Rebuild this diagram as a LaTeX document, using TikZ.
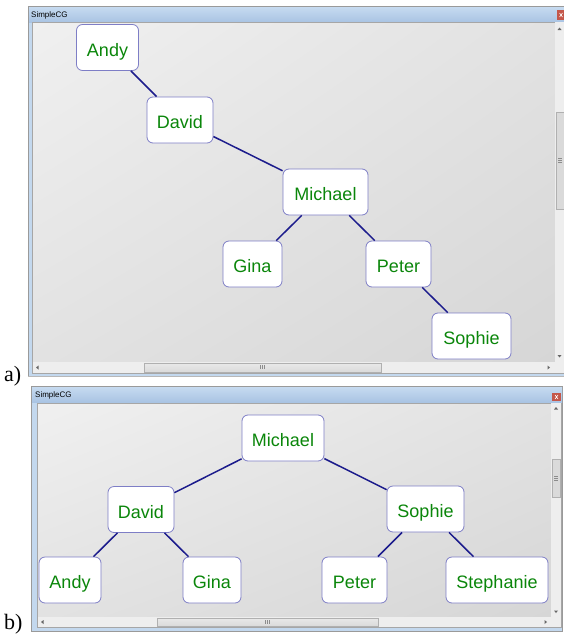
\documentclass[tikz,border=0pt]{standalone}
\usepackage{fontspec}
\usetikzlibrary{shadings}
\setmainfont{Liberation Serif}
\newfontfamily\uifont{Liberation Sans}
\definecolor{frameblue}{HTML}{C3D8EE}
\definecolor{framegray}{HTML}{9A9A9A}
\definecolor{titletop}{HTML}{C6DAF0}
\definecolor{titlebot}{HTML}{A9C4E3}
\definecolor{closered}{HTML}{C4574A}
\definecolor{bgA}{HTML}{F0F0F0}
\definecolor{bgB}{HTML}{E2E2E2}
\definecolor{bgC}{HTML}{D6D6D6}
\definecolor{sbbg}{HTML}{EEEEEE}
\definecolor{thumbc}{HTML}{DADADA}
\definecolor{thumbb}{HTML}{B0B0B0}
\definecolor{boxc}{HTML}{7E7EC6}
\definecolor{edgec}{HTML}{1C1C8C}
\definecolor{namec}{HTML}{0A860A}
\tikzset{
  person/.style={draw=boxc, fill=white, rounded corners=6pt, line width=0.8pt,
    minimum height=46pt, inner sep=0pt, text height=17pt, text depth=0pt, text=namec,
    font=\uifont\fontsize{18}{20}\selectfont},
  edge/.style={draw=edgec, line width=1.5pt},
  wtitle/.style={anchor=west, inner sep=0pt, font=\uifont\fontsize{8}{9}\selectfont},
  arrowtip/.style={fill=black!60},
  panel/.style={anchor=west, inner sep=0pt, font=\fontsize{22}{24}\selectfont}
}
\begin{document}
\begin{tikzpicture}[x=1pt,y=-1pt]
\useasboundingbox (0,0) rectangle (564,635);
\fill[white] (0,0) rectangle (564,635);

% ---------------- window a ----------------
\fill[frameblue] (28,6) rectangle (564,377);
\draw[framegray, line width=0.8pt] (28.4,376.6) -- (28.4,6.4) -- (564,6.4);
\draw[framegray!70, line width=0.6pt] (28.4,376.6) -- (564,376.6);
\shade[top color=titletop, bottom color=titlebot] (29,7) rectangle (564,22);
\node[wtitle] (ta) at (31,15.5) {SimpleCG};
\fill[closered] (557,10) rectangle (565,20);
\draw[white, line width=0.6pt] (559.5,13) -- (562.5,17) (559.5,17) -- (562.5,13);
\shade[upper left=bgA, upper right=bgB, lower left=bgB, lower right=bgC] (32,22) rectangle (555,362);
\draw[black!35, line width=0.5pt] (32,22) rectangle (564,373);
% vertical scrollbar
\fill[sbbg] (555,22) rectangle (564,362);
\fill[thumbc] (556,112) rectangle (564,209);
\draw[thumbb, line width=0.5pt] (556,112) rectangle (564.5,209);
\draw[black!45, line width=0.5pt] (558,158) -- (562,158) (558,160) -- (562,160) (558,162) -- (562,162);
\fill[arrowtip] (557.5,30) -- (561.5,30) -- (559.5,27.5) -- cycle;
\fill[arrowtip] (557.5,355) -- (561.5,355) -- (559.5,357.5) -- cycle;
% horizontal scrollbar
\fill[sbbg] (32.5,362) rectangle (555,372.5);
\shade[top color=thumbc!60, bottom color=thumbc] (144,363) rectangle (381,372);
\draw[thumbb, line width=0.5pt] (144,363) rectangle (381,372);
\draw[black!45, line width=0.5pt] (260,365) -- (260,369) (262,365) -- (262,369) (264,365) -- (264,369);
\fill[arrowtip] (38.5,365.5) -- (38.5,369.5) -- (36,367.5) -- cycle;
\fill[arrowtip] (547.5,365.5) -- (547.5,369.5) -- (550,367.5) -- cycle;
\fill[sbbg] (555,362) rectangle (564,372.5);

% nodes a
\node[person, minimum width=62pt] (aAndy) at (107.5,47.5) {Andy};
\node[person, minimum width=66pt] (aDavid) at (180,120) {David};
\node[person, minimum width=85pt] (aMichael) at (325.5,192) {Michael};
\node[person, minimum width=59pt] (aGina) at (252.5,264) {Gina};
\node[person, minimum width=65pt] (aPeter) at (398.5,264) {Peter};
\node[person, minimum width=79pt] (aSophie) at (471.5,336) {Sophie};
\draw[edge] (aAndy) -- (aDavid);
\draw[edge] (aDavid) -- (aMichael);
\draw[edge] (aMichael) -- (aGina);
\draw[edge] (aMichael) -- (aPeter);
\draw[edge] (aPeter) -- (aSophie);

\node[panel] (la) at (4,376) {a)};

% ---------------- window b ----------------
\fill[frameblue] (31,386) rectangle (563,632);
\draw[framegray, line width=0.8pt] (31.4,386.4) rectangle (562.6,631.6);
\shade[top color=titletop, bottom color=titlebot] (32,387) rectangle (562,402);
\node[wtitle] (tb) at (35,395.5) {SimpleCG};
\fill[closered] (552,393) rectangle (561,401);
\draw[white, line width=0.6pt] (555,395) -- (558,399) (555,399) -- (558,395);
\shade[upper left=bgA, upper right=bgB, lower left=bgB, lower right=bgC] (37,403) rectangle (551,617);
\draw[black!35, line width=0.5pt] (37,403) rectangle (561,627);
% vertical scrollbar
\fill[sbbg] (551,403) rectangle (561,617);
\fill[thumbc] (552,459) rectangle (560,497);
\draw[thumbb, line width=0.5pt] (552,459) rectangle (560,497);
\draw[black!45, line width=0.5pt] (554,476) -- (558,476) (554,478) -- (558,478) (554,480) -- (558,480);
\fill[arrowtip] (554,409.5) -- (558,409.5) -- (556,407) -- cycle;
\fill[arrowtip] (554,610.5) -- (558,610.5) -- (556,613) -- cycle;
% horizontal scrollbar
\fill[sbbg] (37.5,617) rectangle (551,626.5);
\shade[top color=thumbc!60, bottom color=thumbc] (157,618) rectangle (378,626);
\draw[thumbb, line width=0.5pt] (157,618) rectangle (378,626);
\draw[black!45, line width=0.5pt] (265,620) -- (265,624) (267,620) -- (267,624) (269,620) -- (269,624);
\fill[arrowtip] (43.5,620) -- (43.5,624) -- (41,622) -- cycle;
\fill[arrowtip] (544.5,620) -- (544.5,624) -- (547,622) -- cycle;
\fill[sbbg] (551,617) rectangle (561,626.5);

% nodes b
\node[person, minimum width=82pt] (bMichael) at (283,438) {Michael};
\node[person, minimum width=66pt] (bDavid) at (141,509.5) {David};
\node[person, minimum width=77pt] (bSophie) at (425.5,509) {Sophie};
\node[person, minimum width=62pt] (bAndy) at (70,580) {Andy};
\node[person, minimum width=58pt] (bGina) at (212,580) {Gina};
\node[person, minimum width=65pt] (bPeter) at (354.5,580) {Peter};
\node[person, minimum width=102pt] (bStephanie) at (497,580) {Stephanie};
\draw[edge] (bMichael) -- (bDavid);
\draw[edge] (bMichael) -- (bSophie);
\draw[edge] (bDavid) -- (bAndy);
\draw[edge] (bDavid) -- (bGina);
\draw[edge] (bSophie) -- (bPeter);
\draw[edge] (bSophie) -- (bStephanie);

\node[panel] (lb) at (4,624) {b)};
\end{tikzpicture}
\end{document}
